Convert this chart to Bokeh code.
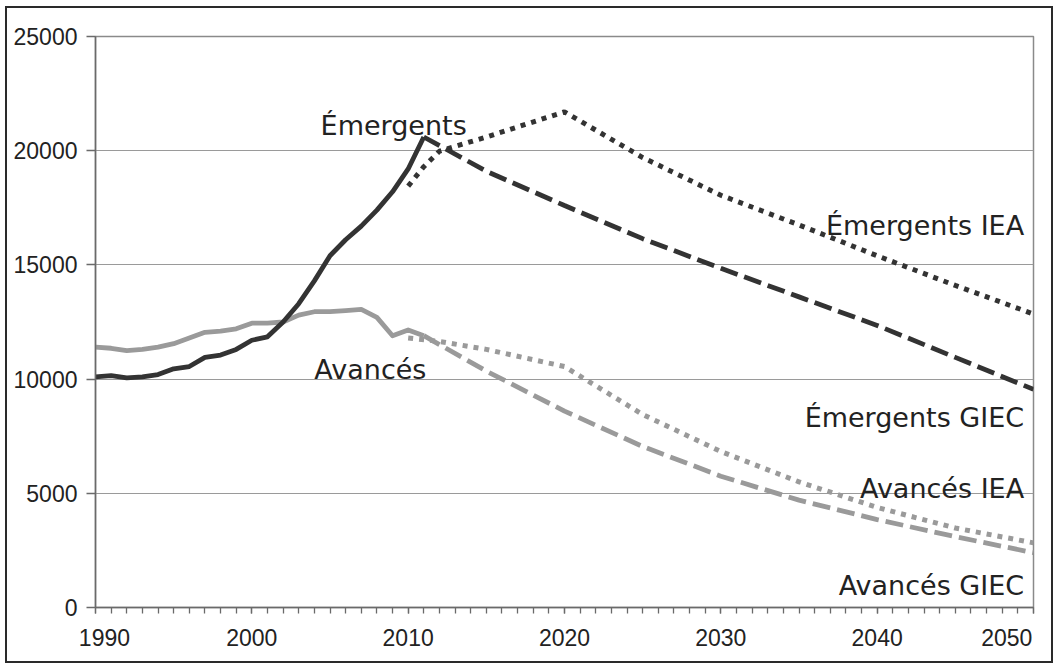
from bokeh.plotting import figure
from bokeh.models import FixedTicker, Label
from bokeh.embed import file_html
from bokeh.resources import INLINE

# ---- data ----
hist_years = list(range(1990, 2012))
emergents = [10100, 10150, 10050, 10100, 10200, 10450, 10550, 10950, 11050, 11300, 11700,
             11850, 12500, 13300, 14300, 15400, 16100, 16700, 17400, 18200, 19200, 20600]
avances = [11400, 11350, 11250, 11300, 11400, 11550, 11800, 12050, 12100, 12200, 12450,
           12450, 12500, 12800, 12950, 12950, 13000, 13050, 12700, 11900, 12150, 11900]

em_iea_years = [2010, 2011, 2012, 2015, 2020, 2025, 2030, 2035, 2040, 2045, 2050]
em_iea = [18450, 19300, 19980, 20600, 21700, 19700, 18050, 16750, 15400, 14100, 12850]

em_giec_years = [2011, 2015, 2020, 2025, 2030, 2035, 2040, 2045, 2050]
em_giec = [20600, 19100, 17600, 16150, 14850, 13600, 12350, 10950, 9550]

av_iea_years = [2010, 2012, 2015, 2020, 2025, 2030, 2035, 2040, 2045, 2050]
av_iea = [11800, 11650, 11300, 10550, 8450, 6830, 5500, 4380, 3480, 2830]

av_giec_years = [2011, 2015, 2020, 2025, 2030, 2035, 2040, 2045, 2050]
av_giec = [11900, 10350, 8600, 7050, 5750, 4700, 3850, 3100, 2400]

y_ticks = [0, 5000, 10000, 15000, 20000, 25000]
x_ticks = [1990, 2000, 2010, 2020, 2030, 2040, 2050]

# series labels: text, x, y (baseline), align
label_texts = ["Émergents", "Avancés", "Émergents IEA", "Émergents GIEC", "Avancés IEA", "Avancés GIEC"]
label_x = [2004.4, 2004.0, 2049.4, 2049.4, 2049.4, 2049.4]
label_y = [21100, 10420, 16725, 8320, 5210, 960]
label_align = ["left", "left", "right", "right", "right", "right"]

DARK = "#333333"
LIGHT = "#9a9a9a"
TXT = "#222222"
NB = "\u00a0"

p = figure(width=1048, height=657, output_backend="svg", toolbar_location=None,
           x_range=(1990, 2050), y_range=(0, 25000),
           min_border_left=88, min_border_right=22, min_border_top=28, min_border_bottom=58)
p.background_fill_color = "white"
p.border_fill_color = "white"
p.outline_line_color = "#8a8a8a"
p.outline_line_width = 1.5
p.styles = {"border": "2px solid #2a2a2a", "margin-left": "5px", "margin-top": "6px"}

p.xgrid.grid_line_color = None
p.ygrid.grid_line_color = "#9a9a9a"
p.ygrid.grid_line_width = 1.2
p.ygrid.ticker = FixedTicker(ticks=y_ticks)

p.xaxis.ticker = FixedTicker(ticks=x_ticks, minor_ticks=list(range(1990, 2051)))
p.yaxis.ticker = FixedTicker(ticks=y_ticks)
# end labels pulled inward, as in the original
p.xaxis.major_label_overrides = {x_ticks[0]: "\u2002" + NB + str(x_ticks[0]),
                                 x_ticks[-1]: str(x_ticks[-1]) + NB * 3}

for ax in (p.xaxis, p.yaxis):
    ax.axis_line_color = "#6a6a6a"
    ax.axis_line_width = 1.5
    ax.major_tick_line_color = "#6a6a6a"
    ax.major_tick_line_width = 1.3
    ax.major_tick_in = 0
    ax.major_label_text_font = "Liberation Sans"
    ax.major_label_text_font_size = "23px"
    ax.major_label_text_color = TXT
p.xaxis.major_tick_out = 6
p.xaxis.minor_tick_out = 6
p.xaxis.minor_tick_in = 0
p.xaxis.minor_tick_line_color = "#6a6a6a"
p.xaxis.minor_tick_line_width = 1.3
p.xaxis.major_label_standoff = 11
p.yaxis.major_tick_out = 9
p.yaxis.minor_tick_line_color = None
p.yaxis.major_label_standoff = 9

# projections
p.line(em_iea_years, em_iea, line_color=DARK, line_width=5, line_dash="5 6")
p.line(em_giec_years, em_giec, line_color=DARK, line_width=4.8, line_dash="18 7")
p.line(av_iea_years, av_iea, line_color=LIGHT, line_width=5, line_dash="5 6")
p.line(av_giec_years, av_giec, line_color=LIGHT, line_width=4.8, line_dash="18 7")
# history
p.line(hist_years, avances, line_color=LIGHT, line_width=4.8, line_join="round")
p.line(hist_years, emergents, line_color=DARK, line_width=4.8, line_join="round")

for t, x, y, a in zip(label_texts, label_x, label_y, label_align):
    p.add_layout(Label(x=x, y=y, text=t, text_align=a, text_baseline="alphabetic",
                       text_font="DejaVu Sans", text_font_size="27px", text_color=TXT))

open("out.html", "w").write(file_html(p, INLINE))
